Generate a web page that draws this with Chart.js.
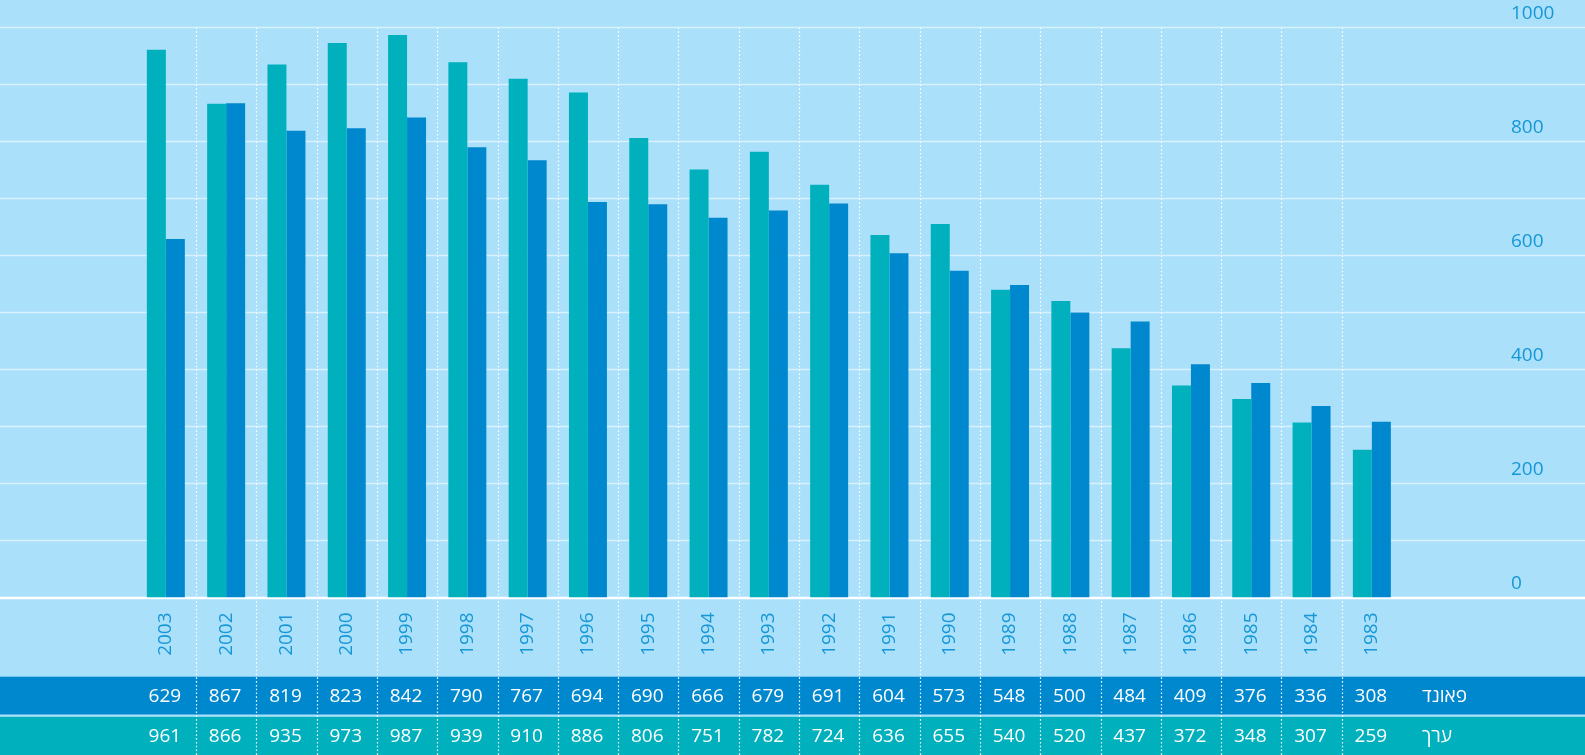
<!DOCTYPE html>
<html lang="he">
<head>
<meta charset="utf-8">
<title>פאונד / ערך 1983–2003</title>
<script src="https://cdn.jsdelivr.net/npm/chart.js@4.4.1/dist/chart.umd.min.js"></script>
<style>
  html, body { margin: 0; padding: 0; background: #abe0fb; }
  #wrap { width: 1585px; height: 755px; position: relative; overflow: hidden; }
</style>
</head>
<body>
<div id="wrap"><canvas id="chart" width="1585" height="755"></canvas></div>
<script>
// Years, newest first (left to right)
const years = ['2003', '2002', '2001', '2000', '1999', '1998', '1997', '1996', '1995', '1994', '1993',
               '1992', '1991', '1990', '1989', '1988', '1987', '1986', '1985', '1984', '1983'];

// פאונד series
const poundValues = [629, 867, 819, 823, 842, 790, 767, 694, 690, 666, 679,
                     691, 604, 573, 548, 500, 484, 409, 376, 336, 308];

// ערך series
const valueValues = [961, 866, 935, 973, 987, 939, 910, 886, 806, 751, 782,
                     724, 636, 655, 540, 520, 437, 372, 348, 307, 259];

// Row captions of the table under the chart
const poundLabel = 'פאונד';
const valueLabel = 'ערך';

// Value axis
const yMin = 0;
const yMax = 1000;
const yGridStep = 100;
const yLabelStep = 200;

const BG = '#abe0fb';
const TEAL = '#00b1bd';
const BLUE = '#0088cf';
const AXIS_TEXT = '#1697d6';
const FONT = "'Open Sans', 'Liberation Sans', sans-serif";
const FONT_SIZE = 19;
const FONT_WEIGHT = 500;

const W = 1585, H = 755;
const BAND_BLUE_TOP = 676.7, BAND_BLUE_BOTTOM = 714.5;
const BAND_TEAL_TOP = 716.8;

const decor = {
  id: 'decor',
  beforeDraw(chart) {
    const { ctx } = chart;
    ctx.save();
    ctx.fillStyle = BG;
    ctx.fillRect(0, 0, W, H);
    ctx.restore();
  },
  beforeDatasetsDraw(chart) {
    const { ctx } = chart;
    const { x, y } = chart.scales;
    ctx.save();

    // table bands
    ctx.fillStyle = BLUE;
    ctx.fillRect(0, BAND_BLUE_TOP, W, BAND_BLUE_BOTTOM - BAND_BLUE_TOP);
    ctx.fillStyle = TEAL;
    ctx.fillRect(0, BAND_TEAL_TOP, W, H - BAND_TEAL_TOP);

    // horizontal grid across the full width
    ctx.strokeStyle = 'rgba(255,255,255,0.55)';
    ctx.lineWidth = 1.5;
    y.ticks.forEach(t => {
      if (t.value === yMin) return;
      const py = y.getPixelForValue(t.value);
      ctx.beginPath();
      ctx.moveTo(0, py);
      ctx.lineTo(W, py);
      ctx.stroke();
    });

    // base line
    ctx.strokeStyle = '#ffffff';
    ctx.lineWidth = 2.6;
    const p0 = y.getPixelForValue(yMin) + 0.6;
    ctx.beginPath();
    ctx.moveTo(0, p0);
    ctx.lineTo(W, p0);
    ctx.stroke();

    // dotted separators between the years
    ctx.strokeStyle = 'rgba(255,255,255,0.95)';
    ctx.lineWidth = 1.2;
    ctx.setLineDash([1.6, 2.2]);
    const top = y.getPixelForValue(yMax);
    for (let i = 0; i < years.length - 1; i++) {
      const px = Math.round((x.getPixelForValue(i) + x.getPixelForValue(i + 1)) / 2) + 0.5;
      ctx.beginPath();
      ctx.moveTo(px, top);
      ctx.lineTo(px, H);
      ctx.stroke();
    }
    ctx.restore();
  },
  afterDatasetsDraw(chart) {
    const { ctx } = chart;
    const { x } = chart.scales;
    ctx.save();
    ctx.fillStyle = '#ffffff';
    ctx.font = FONT_WEIGHT + ' ' + FONT_SIZE + 'px ' + FONT;
    ctx.textAlign = 'center';
    ctx.textBaseline = 'middle';
    const rowBlue = (BAND_BLUE_TOP + BAND_BLUE_BOTTOM) / 2 + 1;
    const rowTeal = (BAND_TEAL_TOP + H) / 2 + 1;
    years.forEach((yr, i) => {
      const px = x.getPixelForValue(i) - 1;
      ctx.fillText(String(poundValues[i]), px, rowBlue);
      ctx.fillText(String(valueValues[i]), px, rowTeal);
    });
    ctx.textAlign = 'left';
    const lx = chart.chartArea.right + 20;
    ctx.fillText(poundLabel, lx, rowBlue);
    ctx.fillText(valueLabel, lx, rowTeal);
    ctx.restore();
  }
};

new Chart(document.getElementById('chart'), {
  type: 'bar',
  data: {
    labels: years,
    datasets: [
      { label: valueLabel, data: valueValues, backgroundColor: TEAL, borderWidth: 0,
        categoryPercentage: 0.63, barPercentage: 1.0 },
      { label: poundLabel, data: poundValues, backgroundColor: BLUE, borderWidth: 0,
        categoryPercentage: 0.63, barPercentage: 1.0 }
    ]
  },
  options: {
    responsive: false,
    animation: false,
    devicePixelRatio: 1,
    layout: { padding: { left: 135.7, top: 27.5, right: 0, bottom: 0 } },
    plugins: {
      legend: { display: false },
      tooltip: { enabled: false }
    },
    scales: {
      x: {
        offset: true,
        grid: { display: false, drawTicks: false },
        border: { display: false },
        ticks: {
          color: AXIS_TEXT,
          font: { family: FONT, size: FONT_SIZE, weight: FONT_WEIGHT },
          minRotation: 90,
          maxRotation: 90,
          autoSkip: false,
          padding: 15
        },
        afterFit(scale) { scale.height = 157.6; }
      },
      y: {
        position: 'right',
        min: yMin,
        max: yMax,
        grid: { display: false, drawTicks: false },
        border: { display: false },
        ticks: {
          stepSize: yGridStep,
          autoSkip: false,
          color: AXIS_TEXT,
          font: { family: FONT, size: FONT_SIZE, weight: FONT_WEIGHT },
          padding: 109,
          labelOffset: -13.5,
          callback: v => (v % yLabelStep === 0 ? String(v) : '')
        },
        afterFit(scale) {
          scale.width = 183;
          // label gap is horizontal only; keep the plot top/bottom where the layout puts them
          scale.paddingTop = 0;
          scale.paddingBottom = 0;
        }
      }
    }
  },
  plugins: [decor]
});
</script>
</body>
</html>
